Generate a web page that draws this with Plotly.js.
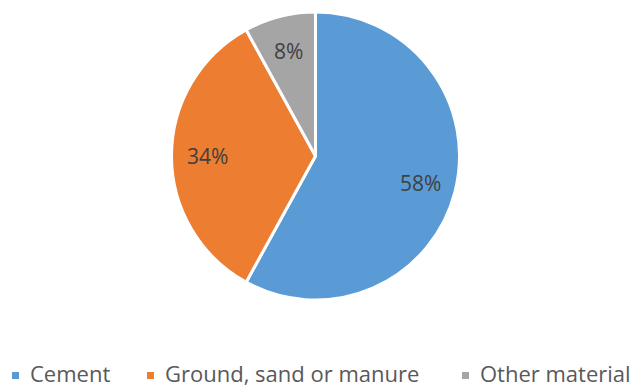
<!DOCTYPE html>
<html>
<head>
<meta charset="utf-8">
<script src="https://cdn.plot.ly/plotly-3.0.1.min.js"></script>
<style>html,body{margin:0;padding:0;background:#fff;}</style>
</head>
<body>
<div id="chart" style="width:634px;height:389px;"></div>
<script>
const categories = ["Cement", "Ground, sand or manure", "Other material"];
const values = [58, 34, 8];
const colors = ["#5B9BD5", "#ED7D31", "#A5A5A5"];

const W = 634, H = 389;
const cx = 315.5, cy = 156, r = 142.5, pad = 1.5;
const labelFrac = 0.76;
// legend entry x positions (px): marker left edge
const legendX = [12, 147, 462];
const legendY = 375.5, markerSize = 7;

const total = values.reduce((a, b) => a + b, 0);
const annotations = [];
const shapes = [];
let cum = 0;
values.forEach((v, i) => {
  const mid = (cum + v / 2) / total * 2 * Math.PI;
  cum += v;
  const px = cx + Math.sin(mid) * r * labelFrac;
  const py = cy - Math.cos(mid) * r * labelFrac;
  annotations.push({
    xref: "paper", yref: "paper", x: px / W, y: 1 - py / H,
    xanchor: "center", yanchor: "middle", showarrow: false,
    text: Math.round(v / total * 100) + "%",
    font: {family: "Open Sans, sans-serif", size: 21, color: "#404040"}
  });
  // legend
  const lx = legendX[i];
  shapes.push({
    type: "rect", xref: "paper", yref: "paper",
    x0: lx / W, x1: (lx + markerSize) / W,
    y0: 1 - (legendY + markerSize / 2) / H, y1: 1 - (legendY - markerSize / 2) / H,
    fillcolor: colors[i], line: {width: 0}
  });
  annotations.push({
    xref: "paper", yref: "paper", x: (lx + markerSize + 10) / W, y: 0,
    xanchor: "left", yanchor: "bottom", showarrow: false, borderpad: 0,
    text: categories[i],
    font: {family: "Open Sans, sans-serif", size: 22, color: "#595959"}
  });
});

Plotly.newPlot("chart", [{
  type: "pie",
  labels: categories,
  values: values,
  sort: false,
  direction: "clockwise",
  rotation: 0,
  marker: {colors: colors, line: {color: "#ffffff", width: 3}},
  textinfo: "none",
  hoverinfo: "none",
  automargin: false,
  showlegend: false,
  domain: {x: [(cx - r - pad) / W, (cx + r + pad) / W], y: [1 - (cy + r + pad) / H, 1 - (cy - r - pad) / H]}
}], {
  width: W, height: H,
  margin: {l: 0, r: 0, t: 0, b: 0},
  paper_bgcolor: "#ffffff",
  showlegend: false,
  annotations: annotations,
  shapes: shapes
}, {displayModeBar: false, staticPlot: true});
</script>
</body>
</html>
